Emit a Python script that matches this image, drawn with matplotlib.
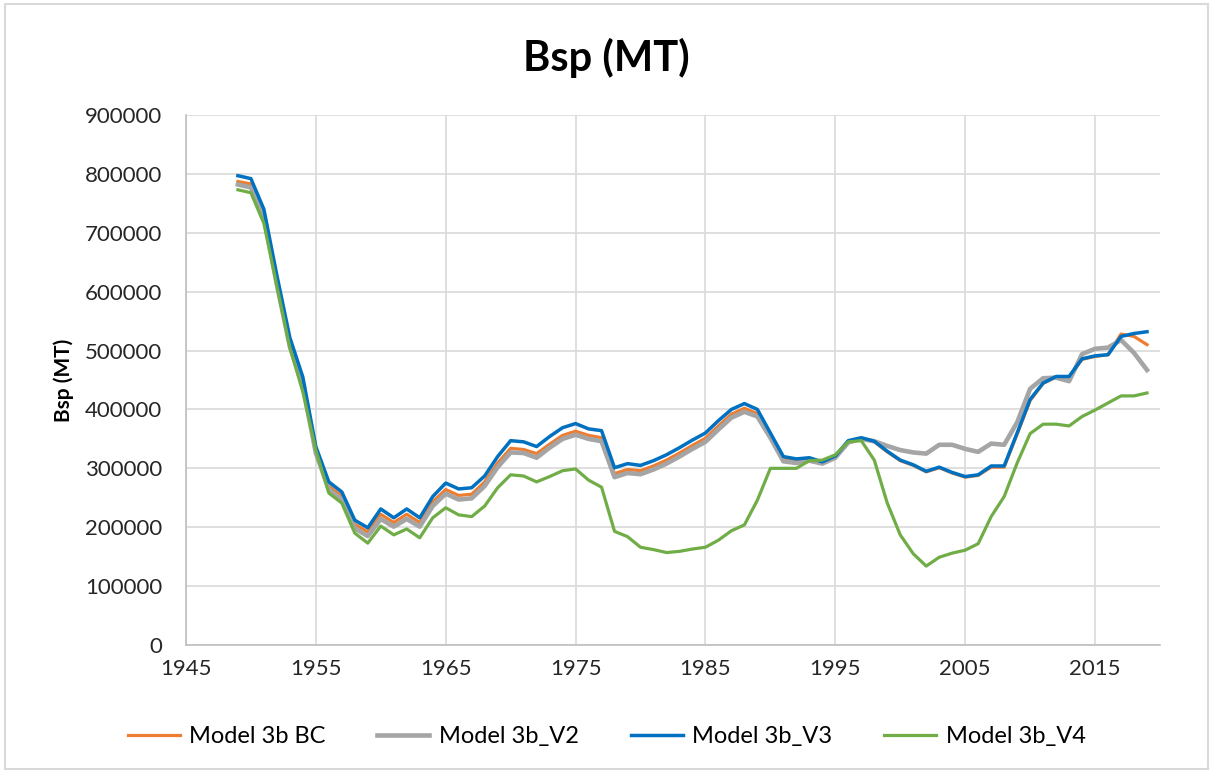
import matplotlib
matplotlib.use("Agg")
import matplotlib.pyplot as plt
import numpy as np

plt.rcParams['font.family'] = ['Lato', 'DejaVu Sans']

years = list(range(1949, 2020))

# values in thousands of MT
bc = [787, 783, 733, 618, 512, 445, 330, 270, 253, 205, 192, 222, 208, 222, 208,
      243, 264, 254, 256, 277, 309, 334, 332, 325, 341, 356, 363, 356, 352, 291,
      298, 296, 304, 314, 326, 339, 351, 372, 392, 402, 393, 355, 316, 312, 316,
      310, 320, 346, 351, 345, 328, 313, 305, 294, 301, 292, 285, 288, 302, 302,
      358, 415, 444, 455, 455, 485, 490, 493, 528, 524, 510]
v2 = [782, 777, 728, 612, 507, 440, 326, 264, 247, 198, 185, 214, 201, 214, 201,
      236, 257, 247, 249, 270, 302, 327, 326, 318, 335, 350, 357, 350, 346, 285,
      292, 290, 298, 308, 320, 333, 345, 366, 386, 396, 388, 352, 312, 309, 313,
      308, 318, 344, 350, 346, 338, 331, 327, 325, 340, 340, 333, 328, 342, 340,
      378, 435, 453, 454, 448, 494, 503, 505, 518, 496, 467]
v3 = [797, 792, 740, 628, 522, 455, 337, 277, 260, 212, 199, 231, 216, 231, 216,
      252, 275, 265, 267, 287, 320, 347, 345, 337, 354, 369, 376, 367, 364, 301,
      308, 305, 313, 323, 335, 348, 360, 381, 400, 410, 400, 360, 320, 316, 318,
      311, 321, 347, 352, 346, 329, 314, 306, 295, 302, 293, 286, 289, 304, 304,
      360, 417, 445, 456, 456, 486, 491, 493, 524, 529, 532]
v4 = [773, 768, 716, 610, 505, 430, 331, 258, 241, 190, 173, 202, 187, 197, 182,
      216, 233, 221, 218, 236, 267, 289, 287, 277, 286, 296, 299, 280, 268, 193,
      184, 166, 162, 157, 159, 163, 166, 178, 194, 204, 246, 300, 300, 300, 313,
      314, 323, 345, 347, 314, 241, 187, 155, 134, 149, 156, 161, 172, 218, 252,
      309, 359, 375, 375, 372, 388, 399, 411, 423, 423, 428]

labels = ['Model 3b BC', 'Model 3b_V2', 'Model 3b_V3', 'Model 3b_V4']
colors = ['#ED7D31', '#A5A5A5', '#0070C0', '#70AD47']
widths = [2.3, 3.3, 2.5, 2.3]

fig = plt.figure(figsize=(12.13, 7.73), dpi=100)
ax = fig.add_axes([0.1533, 0.1656, 0.8030, 0.6856])

for vals, lab, c, w in zip([bc, v2, v3, v4], labels, colors, widths):
    ax.plot(years, np.array(vals) * 1000, color=c, lw=w, label=lab,
            solid_joinstyle='round')

ax.set_xlim(1945, 2020)
ax.set_ylim(0, 900000)
ax.set_xticks(range(1945, 2020, 10))
ax.set_yticks(range(0, 900001, 100000))
ax.grid(True, color='#D9D9D9', lw=1.2)
ax.set_axisbelow(True)
ax.tick_params(length=0, labelsize=16, colors='#262626')
ax.tick_params(axis='y', pad=17)
ax.tick_params(axis='x', pad=10)
for s in ['top', 'right']:
    ax.spines[s].set_visible(False)
for s in ['left', 'bottom']:
    ax.spines[s].set_color('#BFBFBF')
    ax.spines[s].set_linewidth(1.2)

ax.set_ylabel('Bsp (MT)', fontsize=15, fontweight='bold', labelpad=8)
fig.text(0.5, 0.925, 'Bsp (MT)', ha='center', va='center', fontsize=30,
         fontweight='bold')

fig.legend(loc='center', bbox_to_anchor=(0.5, 0.047), ncol=4, frameon=False,
           fontsize=17, handlelength=2.2, columnspacing=2.2, handletextpad=0.4)

fig.patches.append(plt.Rectangle((0.004, 0.005), 0.992, 0.99, fill=False,
                                 edgecolor='#D9D9D9', lw=1.5,
                                 transform=fig.transFigure))

fig.savefig('out.png', dpi=100)
